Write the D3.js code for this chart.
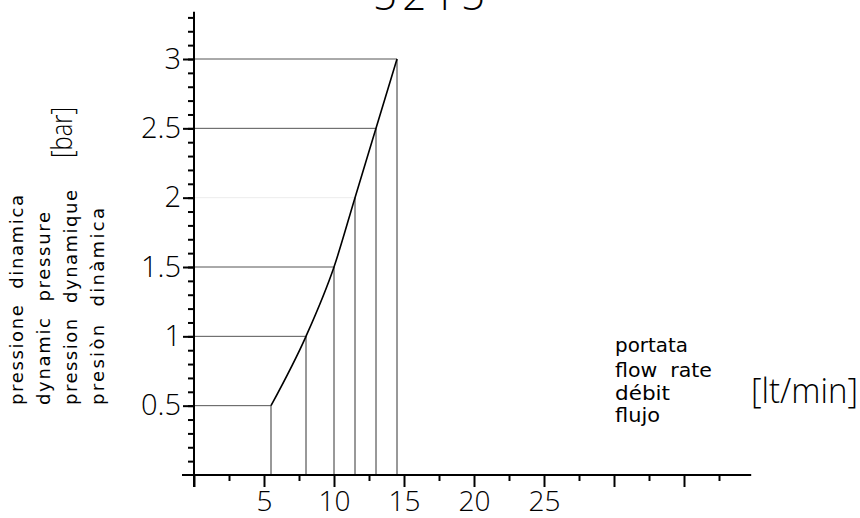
<!DOCTYPE html>
<html>
<head>
<meta charset="utf-8">
<script src="https://cdn.jsdelivr.net/npm/d3@7"></script>
<style>
  body { margin: 0; background: #fff; }
  svg { display: block; }
</style>
</head>
<body>
<svg id="canvas" width="860" height="518"></svg>
<script>
let chartTitle = '5215'

// working points
let flow = [5.5, 8, 10, 11.5, 13, 14.5]
let pressure = [0.5, 1, 1.5, 2, 2.5, 3]

let yMajorTicks = [0.5, 1, 1.5, 2, 2.5, 3]
let yTickLabels = ['0.5', '1', '1.5', '2', '2.5', '3']
let xMajorTicks = [0, 5, 10, 15, 20, 25, 30, 35]
let xTickLabels = ['', '5', '10', '15', '20', '25', '', '']

let yTitleLines = ['pressione\u00a0\u00a0dinamica', 'dynamic\u00a0\u00a0pressure', 'pression\u00a0\u00a0dynamique', 'presiòn\u00a0\u00a0dinàmica']
let xTitleLines = ['portata', 'flow\u00a0\u00a0rate', 'débit', 'flujo']
let yUnit = '[bar]'
let xUnit = '[lt/min]'

let canvas = d3.select('#canvas')

let xScale = d3.scaleLinear().domain([0, 40]).range([194, 754])
let yScale = d3.scaleLinear().domain([0, 3]).range([475, 59])

let font = "'DejaVu Sans', sans-serif"
let numFont = "'Open Sans', 'DejaVu Sans', sans-serif"

// guide lines from the axes to each point
let points = flow.map((f, i) => ({ f: f, p: pressure[i] }))

canvas.selectAll('.hguide')
      .data(points)
      .enter()
      .append('line')
      .attr('class', 'hguide')
      .attr('x1', xScale(0))
      .attr('x2', (d) => xScale(d.f))
      .attr('y1', (d) => yScale(d.p))
      .attr('y2', (d) => yScale(d.p))
      .attr('stroke', (d) => d.p === 2 ? '#ececec' : '#555')
      .attr('stroke-width', 1)

canvas.selectAll('.vguide')
      .data(points)
      .enter()
      .append('line')
      .attr('class', 'vguide')
      .attr('x1', (d) => xScale(d.f))
      .attr('x2', (d) => xScale(d.f))
      .attr('y1', yScale(0))
      .attr('y2', (d) => yScale(d.p))
      .attr('stroke', '#333')
      .attr('stroke-width', 1)

// the curve
let line = d3.line()
             .x((d) => xScale(d.f))
             .y((d) => yScale(d.p))
             .curve(d3.curveMonotoneX)

canvas.append('path')
      .datum(points)
      .attr('d', line)
      .attr('fill', 'none')
      .attr('stroke', '#000')
      .attr('stroke-width', 1.6)

// y axis
let yMinor = d3.axisLeft(yScale)
               .tickValues(d3.range(1, 34).map((i) => i / 10))
               .tickSize(6)
               .tickFormat('')
let yMajor = d3.axisLeft(yScale)
               .tickValues(yMajorTicks)
               .tickSize(11)
               .tickPadding(2)
               .tickFormat((d, i) => yTickLabels[i])

let yAxisMinor = canvas.append('g').attr('transform', 'translate(' + xScale(0) + ',0)').call(yMinor)
let yAxisMajor = canvas.append('g').attr('transform', 'translate(' + xScale(0) + ',0)').call(yMajor)

// x axis
let xMinor = d3.axisBottom(xScale)
               .tickValues(d3.range(0, 15).map((i) => 2.5 + i * 5).filter((v) => v < 40))
               .tickSize(6)
               .tickFormat('')
let xMajor = d3.axisBottom(xScale)
               .tickValues(xMajorTicks)
               .tickSize(12)
               .tickPadding(4)
               .tickFormat((d, i) => xTickLabels[i])

let xAxisMinor = canvas.append('g').attr('transform', 'translate(0,' + yScale(0) + ')').call(xMinor)
let xAxisMajor = canvas.append('g').attr('transform', 'translate(0,' + yScale(0) + ')').call(xMajor)

;[yAxisMinor, yAxisMajor, xAxisMinor, xAxisMajor].forEach((g) => {
    g.select('.domain').remove()
    g.selectAll('line').attr('stroke', '#000').attr('stroke-width', 2)
    g.attr('font-family', numFont).attr('font-size', 29).attr('font-weight', 300)
    g.selectAll('text').attr('fill', '#000')
})
xAxisMajor.selectAll('text').attr('font-size', 28)

// axis lines
canvas.append('line')
      .attr('x1', xScale(0)).attr('x2', xScale(0))
      .attr('y1', yScale(3.34)).attr('y2', yScale(0) + 12)
      .attr('stroke', '#000').attr('stroke-width', 2)
canvas.append('line')
      .attr('x1', xScale(0) - 12).attr('x2', xScale(39.8))
      .attr('y1', yScale(0)).attr('y2', yScale(0))
      .attr('stroke', '#000').attr('stroke-width', 2)

// title, cut at the top as in the source
canvas.append('text')
      .text(chartTitle)
      .attr('x', 373)
      .attr('y', 10)
      .attr('font-family', numFont)
      .attr('font-size', 42)
      .attr('font-weight', 300)
      .attr('textLength', 112)
      .attr('lengthAdjust', 'spacing')

// y title, four rotated lines
let yTitleX = [23, 50, 77, 104]
let yTitleLen = [210, 193, 215, 197]
canvas.selectAll('.ytitle')
      .data(yTitleLines)
      .enter()
      .append('text')
      .attr('class', 'ytitle')
      .text((d) => d)
      .attr('transform', (d, i) => 'translate(' + yTitleX[i] + ',405) rotate(-90)')
      .attr('font-family', font)
      .attr('font-size', 18)
      .attr('textLength', (d, i) => yTitleLen[i])
      .attr('lengthAdjust', 'spacing')

canvas.append('text')
      .text(yUnit)
      .attr('transform', 'translate(72,158) rotate(-90)')
      .attr('font-family', numFont)
      .attr('font-size', 30)
      .attr('font-weight', 300)
      .attr('textLength', 51)
      .attr('lengthAdjust', 'spacingAndGlyphs')

// x title
let xTitleY = [352, 377, 400, 422]
let xTitleLen = [73, 97, 55, 45]
canvas.selectAll('.xtitle')
      .data(xTitleLines)
      .enter()
      .append('text')
      .attr('class', 'xtitle')
      .text((d) => d)
      .attr('x', 615)
      .attr('y', (d, i) => xTitleY[i])
      .attr('font-family', font)
      .attr('font-size', 20)
      .attr('textLength', (d, i) => xTitleLen[i])
      .attr('lengthAdjust', 'spacingAndGlyphs')

canvas.append('text')
      .text(xUnit)
      .attr('x', 751)
      .attr('y', 403)
      .attr('font-family', numFont)
      .attr('font-size', 34)
      .attr('font-weight', 300)
      .attr('textLength', 107)
      .attr('lengthAdjust', 'spacingAndGlyphs')
</script>
</body>
</html>
